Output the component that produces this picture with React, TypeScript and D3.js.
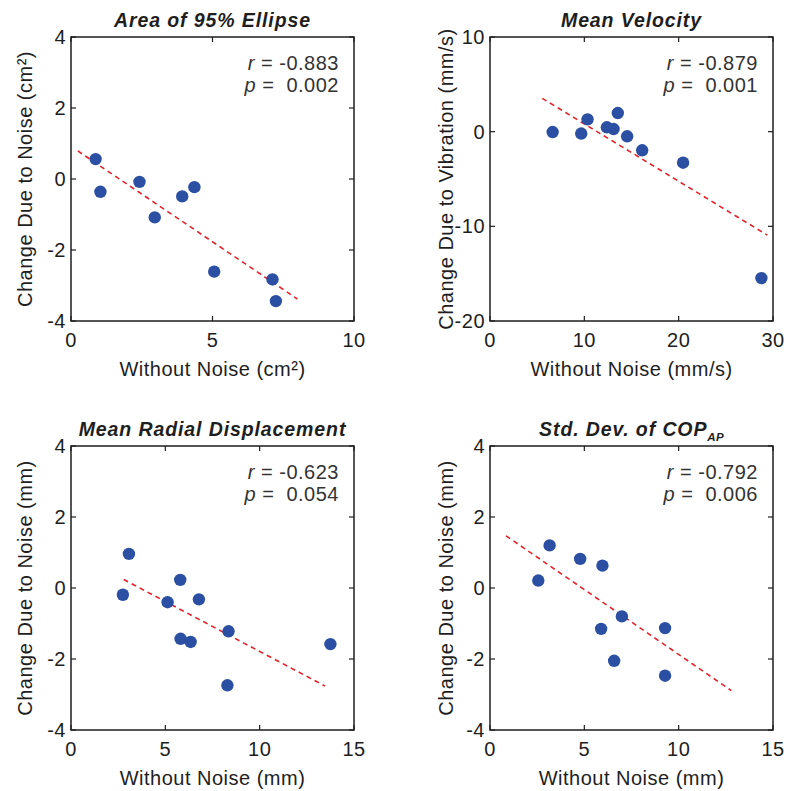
import React from "react";
import * as d3 from "d3";

// ---------- Data ----------
const titles = ["Area of 95% Ellipse", "Mean Velocity", "Mean Radial Displacement", "Std. Dev. of COP"];
const titleSubs = ["", "", "", "AP"];
const xLabels = ["Without Noise (cm²)", "Without Noise (mm/s)", "Without Noise (mm)", "Without Noise (mm)"];
const yLabels = ["Change Due to Noise (cm²)", "Change Due to Vibration (mm/s)", "Change Due to Noise (mm)", "Change Due to Noise (mm)"];
const xDomains: [number, number][] = [[0, 10], [0, 30], [0, 15], [0, 15]];
const yDomains: [number, number][] = [[-4, 4], [-20, 10], [-4, 4], [-4, 4]];
const xTickVals = [[0, 5, 10], [0, 10, 20, 30], [0, 5, 10, 15], [0, 5, 10, 15]];
const yTickVals = [[-4, -2, 0, 2, 4], [-20, -10, 0, 10], [-4, -2, 0, 2, 4], [-4, -2, 0, 2, 4]];
const rValues = ["-0.883", "-0.879", "-0.623", "-0.792"];
const pValues = ["0.002", "0.001", "0.054", "0.006"];

const ellipseX = [0.87, 1.04, 2.42, 2.96, 3.93, 4.36, 5.06, 7.12, 7.24];
const ellipseY = [0.56, -0.36, -0.08, -1.08, -0.49, -0.23, -2.61, -2.83, -3.44];
const velocityX = [6.64, 9.67, 10.34, 12.39, 13.1, 13.55, 14.54, 16.13, 20.47, 28.77];
const velocityY = [-0.04, -0.2, 1.3, 0.46, 0.28, 1.97, -0.49, -1.97, -3.28, -15.47];
const radialX = [2.75, 3.07, 5.12, 5.79, 5.81, 6.34, 6.78, 8.35, 8.29, 13.75];
const radialY = [-0.19, 0.96, -0.4, 0.23, -1.43, -1.52, -0.32, -1.22, -2.74, -1.58];
const copX = [2.56, 3.16, 4.78, 5.96, 5.89, 6.99, 6.58, 9.28, 9.28];
const copY = [0.21, 1.2, 0.82, 0.63, -1.15, -0.8, -2.05, -1.13, -2.47];

const fitX: [number, number][] = [[0.24, 8.0], [5.54, 29.4], [2.79, 13.46], [0.85, 12.79]];
const fitY: [number, number][] = [[0.79, -3.38], [3.52, -10.93], [0.24, -2.76], [1.47, -2.89]];

const seriesX = [ellipseX, velocityX, radialX, copX];
const seriesY = [ellipseY, velocityY, radialY, copY];

// ---------- Layout ----------
const W = 786;
const H = 791;
const boxW = 283;
const boxH = 284;
const origins = [
  { left: 71, top: 37 },
  { left: 490, top: 37 },
  { left: 71, top: 446 },
  { left: 490, top: 446 },
];
const yLabelOffsets = [-39, -37, -39, -37];
const FONT = "'Liberation Sans', Arial, Helvetica, sans-serif";
const TEXT = "#1e1e1e";
const DOT = "#2b4fa2";
const LINE = "#e3242b";
const FS = 20;
const LS = 0.5;

function Panel({ i }: { i: number }) {
  const { left, top } = origins[i];
  const x = d3.scaleLinear().domain(xDomains[i]).range([0, boxW]);
  const y = d3.scaleLinear().domain(yDomains[i]).range([boxH, 0]);
  const line = d3.line<[number, number]>().x((d) => x(d[0])).y((d) => y(d[1]));
  const fitPts: [number, number][] = [
    [fitX[i][0], fitY[i][0]],
    [fitX[i][1], fitY[i][1]],
  ];
  const tl = 5;
  return (
    <g transform={`translate(${left},${top})`}>
      {/* title */}
      <text
        x={boxW / 2}
        y={-10}
        textAnchor="middle"
        fontFamily={FONT}
        fontSize={19.5}
        fontWeight="bold"
        fontStyle="italic"
        letterSpacing={0.9}
        fill={TEXT}
      >
        {titles[i]}
        {titleSubs[i] && (
          <tspan fontSize={11.5} dy={5} letterSpacing={0.3}>
            {titleSubs[i]}
          </tspan>
        )}
      </text>
      {/* ticks */}
      {xTickVals[i].map((v) => (
        <g key={"x" + v}>
          <line x1={x(v)} x2={x(v)} y1={boxH} y2={boxH - tl} stroke={TEXT} strokeWidth={1.2} />
          <line x1={x(v)} x2={x(v)} y1={0} y2={tl} stroke={TEXT} strokeWidth={1.2} />
          <text x={x(v)} y={boxH + 26} textAnchor="middle" fontFamily={FONT} fontSize={FS} letterSpacing={LS} fill={TEXT}>
            {v}
          </text>
        </g>
      ))}
      {yTickVals[i].map((v) => (
        <g key={"y" + v}>
          <line x1={0} x2={tl} y1={y(v)} y2={y(v)} stroke={TEXT} strokeWidth={1.2} />
          <line x1={boxW} x2={boxW - tl} y1={y(v)} y2={y(v)} stroke={TEXT} strokeWidth={1.2} />
          <text x={-5} y={y(v) + 7} textAnchor="end" fontFamily={FONT} fontSize={FS} letterSpacing={LS} fill={TEXT}>
            {v}
          </text>
        </g>
      ))}
      {/* box */}
      <rect x={0} y={0} width={boxW} height={boxH} fill="none" stroke={TEXT} strokeWidth={1.5} />
      {/* fit line */}
      <path d={line(fitPts) || ""} stroke={LINE} strokeWidth={1.6} strokeDasharray="5,4" fill="none" />
      {/* points */}
      {seriesX[i].map((xv, k) => (
        <circle key={k} cx={x(xv)} cy={y(seriesY[i][k])} r={6.2} fill={DOT} />
      ))}
      {/* stats */}
      <text x={boxW - 15} y={33} textAnchor="end" fontFamily={FONT} fontSize={FS} letterSpacing={LS} fill="#333" xmlSpace="preserve">
        <tspan fontStyle="italic">r</tspan>
        {" = " + rValues[i]}
      </text>
      <text x={boxW - 15} y={55} textAnchor="end" fontFamily={FONT} fontSize={FS} letterSpacing={LS} fill="#333" xmlSpace="preserve">
        <tspan fontStyle="italic">p</tspan>
        {" =  " + pValues[i]}
      </text>
      {/* axis labels */}
      <text x={boxW / 2} y={boxH + 55} textAnchor="middle" fontFamily={FONT} fontSize={FS} letterSpacing={LS} fill={TEXT}>
        {xLabels[i]}
      </text>
      <text
        transform={`translate(${yLabelOffsets[i]},${boxH / 2}) rotate(-90)`}
        textAnchor="middle"
        fontFamily={FONT}
        fontSize={FS}
        letterSpacing={LS}
        fill={TEXT}
      >
        {yLabels[i]}
      </text>
    </g>
  );
}

export default function App() {
  return (
    <svg width={W} height={H} style={{ display: "block", position: "absolute", left: 0, top: 0 }}>
      <rect width={W} height={H} fill="#fff" />
      {[0, 1, 2, 3].map((i) => (
        <Panel key={i} i={i} />
      ))}
    </svg>
  );
}
